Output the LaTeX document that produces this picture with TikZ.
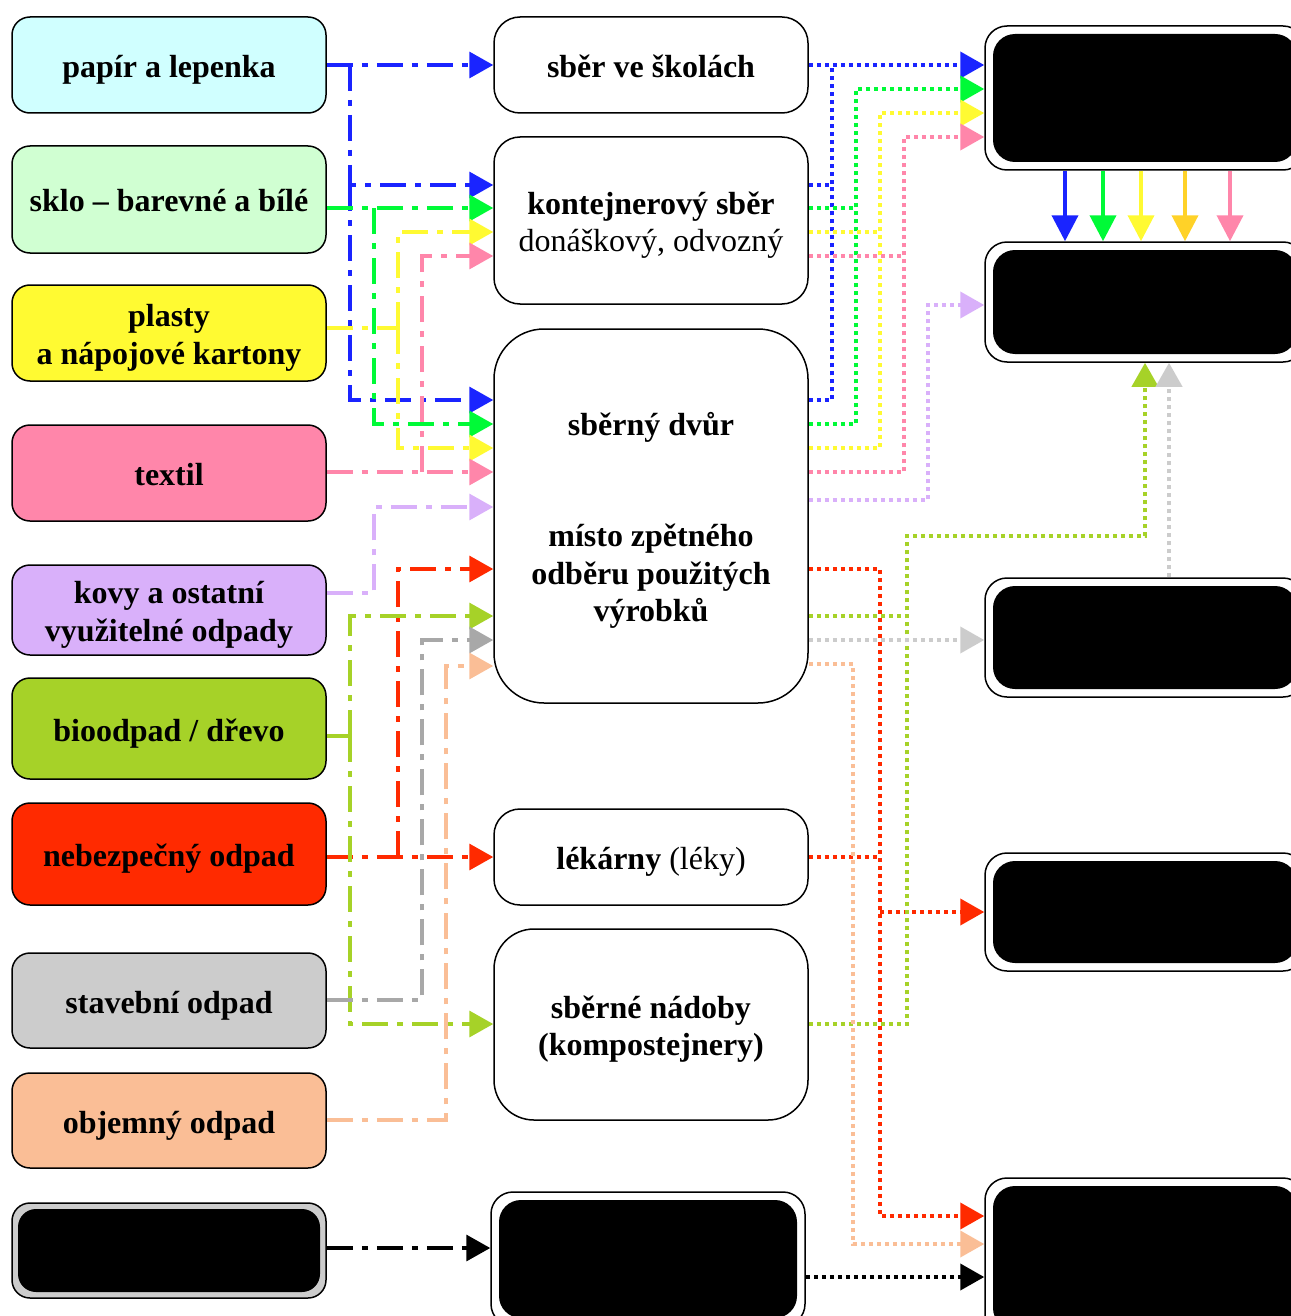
\documentclass[tikz,border=0pt]{standalone}
\usepackage{fontspec}
\setmainfont{Liberation Serif}
\usetikzlibrary{arrows.meta}

\definecolor{cBlue}{RGB}{26,36,255}
\definecolor{cGreen}{RGB}{0,250,55}
\definecolor{cYellow}{RGB}{255,250,50}
\definecolor{cGold}{RGB}{255,210,40}
\definecolor{cPink}{RGB}{255,134,170}
\definecolor{cLilac}{RGB}{217,176,250}
\definecolor{cRed}{RGB}{255,42,0}
\definecolor{cLime}{RGB}{166,210,40}
\definecolor{cGray}{RGB}{168,168,168}
\definecolor{cLight}{RGB}{204,204,204}
\definecolor{cPeach}{RGB}{250,190,150}
\definecolor{cCyanBg}{RGB}{208,255,255}
\definecolor{cGreenBg}{RGB}{208,255,210}

\newcommand{\bigtxt}{\fontsize{32}{37.5}\selectfont}
% text lowered a little, box size kept
\newcommand{\lbl}[1]{\raisebox{-5pt}[\height][\depth]{\begin{tabular}{@{}c@{}}#1\end{tabular}}}

\tikzset{
  lbox/.style={draw, line width=1.5pt, rounded corners=18pt, minimum width=314pt,
    inner sep=0pt, font=\bigtxt\bfseries},
  mbox/.style={draw, line width=1.5pt, rounded corners=26pt, minimum width=314pt,
    inner sep=0pt, font=\bigtxt},
  hidden/.style={draw, line width=1.5pt, fill=white, rounded corners=22pt, inner sep=0pt,
    path picture={\fill[black] ([shift={(8pt,-8pt)}]path picture bounding box.north west)
      rectangle ([shift={(-8pt,8pt)}]path picture bounding box.south east);}},
  feed/.style={line width=3.5pt, dash pattern=on 26pt off 9pt on 6pt off 9pt},
  feedarr/.style={feed, -{Triangle[length=24pt,width=26pt]}},
  outline/.style={line width=4pt, dash pattern=on 4pt off 4pt},
  outarr/.style={outline, -{Triangle[length=24pt,width=26pt]}},
  dropline/.style={line width=4pt, -{Triangle[length=26pt,width=26pt]}}
}

\begin{document}
\begin{tikzpicture}[x=1pt,y=-1pt]
\useasboundingbox (0,0) rectangle (1290,1316);

% waste kinds
\node[lbox, fill=cCyanBg, minimum height=96pt] (papir) at (169,65) {\lbl{papír a lepenka}};
\node[lbox, fill=cGreenBg, minimum height=107pt] (sklo) at (169,199.5) {\lbl{sklo -- barevné a bílé}};
\node[lbox, fill=cYellow, minimum height=96pt] (plasty) at (169,333) {\lbl{plasty\\a nápojové kartony}};
\node[lbox, fill=cPink, minimum height=96pt] (textil) at (169,473) {\lbl{textil}};
\node[lbox, fill=cLilac, minimum height=90pt] (kovy) at (169,610) {\lbl{kovy a ostatní\\využitelné odpady}};
\node[lbox, fill=cLime, minimum height=101pt] (bio) at (169,728.5) {\lbl{bioodpad / dřevo}};
\node[lbox, fill=cRed, minimum height=102pt] (nebez) at (169,854) {\lbl{nebezpečný odpad}};
\node[lbox, fill=cLight, minimum height=95pt] (stav) at (169,1000.5) {\lbl{stavební odpad}};
\node[lbox, fill=cPeach, minimum height=95pt] (objem) at (169,1120.5) {\lbl{objemný odpad}};
\node[hidden, fill=cLight, rounded corners=18pt, minimum width=314pt, minimum height=95pt,
  path picture={\fill[black] ([shift={(6pt,-6pt)}]path picture bounding box.north west)
    rectangle ([shift={(-6pt,6pt)}]path picture bounding box.south east);}] (blackL) at (169,1250.5) {};

% collection points
\node[mbox, minimum height=96pt, font=\bigtxt\bfseries] (skoly) at (651,65) {\lbl{sběr ve školách}};
\node[mbox, minimum height=167pt] (kont) at (651,220.5) {\lbl{\textbf{kontejnerový sběr}\\donáškový, odvozný}};
\node[mbox, rounded corners=50pt, minimum height=374pt, font=\bigtxt\bfseries] (dvur) at (651,516)
  {\lbl{sběrný dvůr\\[74pt]místo zpětného\\odběru použitých\\výrobků}};
\node[mbox, minimum height=96pt] (lekarny) at (651,857) {\lbl{\textbf{lékárny} (léky)}};
\node[mbox, rounded corners=40pt, minimum height=191pt, font=\bigtxt\bfseries] (nadoby) at (651,1024.5)
  {\lbl{sběrné nádoby\\(kompostejnery)}};
\node[hidden, minimum width=314pt, minimum height=134pt] (blackM) at (648,1259) {};

% targets
\node[hidden, minimum width=320pt, minimum height=144pt] (r1) at (1145,98) {};
\node[hidden, minimum width=320pt, minimum height=120pt] (r2) at (1145,302) {};
\node[hidden, minimum width=320pt, minimum height=119pt] (r3) at (1145,637.5) {};
\node[hidden, minimum width=320pt, minimum height=118pt] (r4) at (1145,912) {};
\node[hidden, minimum width=320pt, minimum height=160pt] (r5) at (1145,1258) {};

% kinds -> collection points
\draw[feedarr, cBlue] (papir.east) -- (skoly.west);
\draw[feedarr, cBlue] (papir.east -| 350,0) |- (kont.west |- 0,185);
\draw[feedarr, cBlue] (350,185) |- (dvur.west |- 0,400);
\draw[feedarr, cGreen] (sklo.east |- 0,208) -- (kont.west |- 0,208);
\draw[feedarr, cGreen] (374,208) |- (dvur.west |- 0,424);
\draw[feed, cYellow] (plasty.east |- 0,328) -- (398,328);
\draw[feedarr, cYellow] (398,328) |- (kont.west |- 0,232);
\draw[feedarr, cYellow] (398,328) |- (dvur.west |- 0,448);
\draw[feedarr, cPink] (textil.east |- 0,472) -- (dvur.west |- 0,472);
\draw[feedarr, cPink] (422,472) |- (kont.west |- 0,256);
\draw[feedarr, cLilac] (kovy.east |- 0,593) -| (374,507) -- (dvur.west |- 0,507);
\draw[feedarr, cRed] (nebez.east |- 0,857) -- (lekarny.west |- 0,857);
\draw[feedarr, cRed] (398,857) |- (dvur.west |- 0,569);
\draw[feed, cLime] (bio.east |- 0,736) -- (350,736);
\draw[feedarr, cLime] (350,736) |- (dvur.west |- 0,616);
\draw[feedarr, cLime] (350,736) |- (nadoby.west |- 0,1024);
\draw[feedarr, cGray] (stav.east |- 0,1000) -| (422,640) -- (dvur.west |- 0,640);
\draw[feedarr, cPeach] (objem.east |- 0,1120) -| (446,666) -- (dvur.west |- 0,666);
\draw[feedarr, black] (blackL.east |- 0,1248) -- (blackM.west |- 0,1248);

% collection points -> targets
\draw[outarr, cBlue] (skoly.east) -- (r1.west |- 0,65);
\draw[outline, cBlue] (kont.east |- 0,185) -| (832,65);
\draw[outline, cBlue] (dvur.east |- 0,400) -| (832,185);
\draw[outarr, cGreen] (dvur.east |- 0,424) -| (856,89) -- (r1.west |- 0,89);
\draw[outline, cGreen] (kont.east |- 0,208) -- (856,208);
\draw[outarr, cYellow] (dvur.east |- 0,448) -| (880,113) -- (r1.west |- 0,113);
\draw[outline, cYellow] (kont.east |- 0,232) -- (880,232);
\draw[outarr, cPink] (dvur.east |- 0,472) -| (904,137) -- (r1.west |- 0,137);
\draw[outline, cPink] (kont.east |- 0,256) -- (904,256);
\draw[outarr, cLilac] (dvur.east |- 0,500) -| (928,305) -- (r2.west |- 0,305);
\draw[outarr, cRed] (dvur.east |- 0,569) -| (880,1216) -- (r5.west |- 0,1216);
\draw[outline, cRed] (lekarny.east) -- (880,857);
\draw[outarr, cRed] (880,912) -- (r4.west |- 0,912);
\draw[outarr, cLime] (nadoby.east |- 0,1024) -| (907,536) -| (r2.south -| 1145,0);
\draw[outline, cLime] (dvur.east |- 0,616) -- (907,616);
\draw[outarr, cLight] (dvur.east |- 0,640) -- (r3.west |- 0,640);
\draw[outarr, cLight] (r3.north -| 1169,0) -- (r2.south -| 1169,0);
\draw[outarr, cPeach] (dvur.east |- 0,664) -| (853,1244) -- (r5.west |- 0,1244);
\draw[outarr, black] (blackM.east |- 0,1277) -- (r5.west |- 0,1277);

% between targets
\foreach \xx/\cc in {1065/cBlue, 1103/cGreen, 1141/cYellow, 1185/cGold, 1230/cPink}
  \draw[dropline, \cc] (r1.south -| \xx,0) -- (r2.north -| \xx,0);

\end{tikzpicture}
\end{document}
